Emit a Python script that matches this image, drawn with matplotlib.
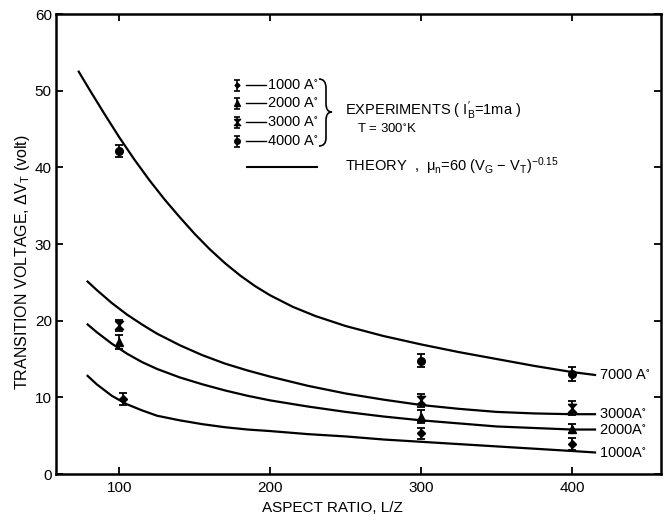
import matplotlib
matplotlib.use("Agg")
import matplotlib.pyplot as plt
from matplotlib.path import Path
from matplotlib.patches import PathPatch

plt.rcParams['font.family'] = ['Liberation Sans', 'DejaVu Sans']
plt.rcParams['mathtext.default'] = 'regular'
plt.rcParams['mathtext.fontset'] = 'custom'
plt.rcParams['mathtext.rm'] = 'Liberation Sans'

# theory curves
th7000_x = [72.7, 80, 90, 100, 110, 120, 130, 140, 150, 160, 170, 180, 190, 200,
            215, 230, 250, 275, 300, 325, 350, 375, 400, 416]
th7000_y = [52.6, 50.2, 47.0, 43.9, 41.0, 38.3, 35.8, 33.5, 31.3, 29.3, 27.5, 25.9, 24.5, 23.3,
            21.8, 20.6, 19.3, 18.0, 16.9, 15.9, 15.0, 14.1, 13.3, 12.9]

th_x = [78.4, 85, 95, 105, 115, 125, 140, 155, 170, 185, 200, 225, 250, 275, 300,
        325, 350, 375, 400, 416]
th3000_y = [25.2, 24.0, 22.3, 20.8, 19.5, 18.3, 16.8, 15.5, 14.4, 13.5, 12.7, 11.5, 10.5, 9.7, 9.0,
            8.5, 8.1, 7.9, 7.8, 7.8]
th2000_y = [19.6, 18.5, 17.0, 15.7, 14.6, 13.7, 12.6, 11.7, 10.9, 10.2, 9.6, 8.8, 8.1, 7.5, 7.0,
            6.6, 6.2, 6.0, 5.8, 5.8]
th1000_y = [12.9, 11.7, 10.2, 9.1, 8.3, 7.6, 7.0, 6.5, 6.1, 5.8, 5.6, 5.2, 4.9, 4.5, 4.2,
            3.9, 3.6, 3.3, 3.0, 2.8]

curve_labels = ['7000 A$^{\\circ}$', '3000A$^{\\circ}$', '2000A$^{\\circ}$', '1000A$^{\\circ}$']

# experiments
exp_x = [100, 300, 400]
exp1000_x = [102.7, 300, 400]
exp1000_y = [9.8, 5.3, 3.9]
exp2000_y = [17.2, 7.5, 5.9]
exp3000_y = [19.4, 9.6, 8.6]
exp4000_y = [42.1, 14.8, 13.0]
err1000 = [0.8, 0.7, 0.8]
err2000 = [0.9, 0.8, 0.6]
err3000 = [0.7, 0.9, 0.9]
err4000 = [0.8, 0.8, 0.9]
legend_labels = ['1000 A$^{\\circ}$', '2000 A$^{\\circ}$', '3000 A$^{\\circ}$', '4000 A$^{\\circ}$']

hourglass = Path([(-1, 1), (1, 1), (-1, -1), (1, -1), (-1, 1)])
markers = [('D', 4), ('^', 5.5), (hourglass, 6), ('o', 5.5)]

fig = plt.figure(figsize=(6.66, 5.17), dpi=100)
ax = fig.add_axes([56/666, 1 - 474/517, 605/666, 460/517])

for xs, ys in [(th7000_x, th7000_y), (th_x, th3000_y), (th_x, th2000_y), (th_x, th1000_y)]:
    ax.plot(xs, ys, color='k', lw=1.6, solid_capstyle='butt', solid_joinstyle='round')

for lab, yv in zip(curve_labels, [th7000_y[-1], th3000_y[-1], th2000_y[-1], th1000_y[-1]]):
    ax.text(th_x[-1] + 2, yv, lab, fontsize=10.5, va='center', ha='left')

exp_sets = [(exp1000_x, exp1000_y, err1000), (exp_x, exp2000_y, err2000),
            (exp_x, exp3000_y, err3000), (exp_x, exp4000_y, err4000)]
for (xs, ys, es), (mk, ms) in zip(exp_sets, markers):
    ax.errorbar(xs, ys, yerr=es, fmt='none', ecolor='k', elinewidth=1.3,
                capsize=3, capthick=1.3)
    ax.plot(xs, ys, ls='none', marker=mk, ms=ms, color='k')

ax.set_xlim(58, 459)
ax.set_ylim(0, 60)
ax.set_xticks([100, 200, 300, 400])
ax.set_yticks([0, 10, 20, 30, 40, 50, 60])
ax.tick_params(direction='in', length=5, width=1.3, top=True, right=True,
               labelsize=11, pad=5)
ax.tick_params(axis='y', pad=3)
for s in ax.spines.values():
    s.set_linewidth(1.8)

ax.text((332 - 56) / 605, -0.074, 'ASPECT RATIO, L/Z', transform=ax.transAxes,
        ha='center', va='center', fontsize=11)
ax.text(-0.056, 0.46, 'TRANSITION VOLTAGE, $\\Delta V_T$ (volt)', transform=ax.transAxes,
        ha='center', va='center', rotation=90, fontsize=11.5)

# legend drawn in pixel space on an overlay
lg = fig.add_axes([0, 0, 1, 1], zorder=5)
lg.set_xlim(0, 666)
lg.set_ylim(517, 0)
lg.axis('off')
lg.patch.set_alpha(0)

rows_y = [85, 103, 122, 141]
for ry, (mk, ms), lab in zip(rows_y, markers, legend_labels):
    lg.errorbar([237], [ry], yerr=[5.5], fmt='none', ecolor='k', elinewidth=1.2,
                capsize=2.5, capthick=1.2)
    lg.plot([237], [ry], ls='none', marker=mk, ms=ms - 1.5, color='k')
    lg.plot([246, 266], [ry, ry], color='k', lw=1)
    lg.text(267, ry, lab, fontsize=10.5, va='center', ha='left')

P = Path
brace = P([(319, 79), (326, 79), (326, 88), (326, 104), (326, 112), (332, 112),
           (326, 112), (326, 120), (326, 138), (326, 146), (319, 146)],
          [P.MOVETO, P.CURVE3, P.CURVE3, P.LINETO, P.CURVE3, P.CURVE3,
           P.CURVE3, P.CURVE3, P.LINETO, P.CURVE3, P.CURVE3])
lg.add_patch(PathPatch(brace, fill=False, lw=1.2, color='k'))

lg.text(345, 111, "EXPERIMENTS ( $I_B^{\\prime}$=1ma )", fontsize=10.5, va='center')
lg.text(357, 129, "T = 300$^{\\circ}$K", fontsize=9.5, va='center')
lg.plot([247, 317], [167, 167], color='k', lw=1.5)
lg.text(345, 166, "THEORY  ,  $\\mu_n$=60 ($V_G$ $-$ $V_T$)$^{-0.15}$", fontsize=10.5, va='center')

fig.savefig('out.png', dpi=100)
